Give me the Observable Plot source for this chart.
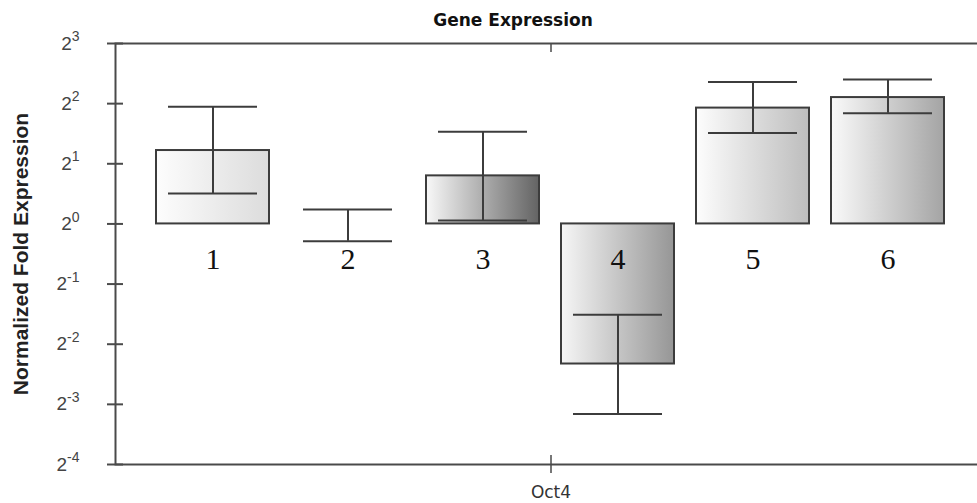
<!DOCTYPE html>
<html><head><meta charset="utf-8">
<script src="https://cdn.jsdelivr.net/npm/d3@7"></script>
<script src="https://cdn.jsdelivr.net/npm/@observablehq/plot@0.6"></script>
<style>
html,body{margin:0;padding:0;background:#fff;overflow:hidden;}
</style></head><body><div id="chart"></div>
<script>
// ---- data ----
const title = "Gene Expression";
const yLabel = "Normalized Fold Expression";
const gene = "Oct4";
const samples = ["1", "2", "3", "4", "5", "6"];
const fold    = [2.33, 1.0, 1.74, 0.199, 3.80, 4.29];
const errLow  = [1.42, 0.82, 1.04, 0.112, 2.85, 3.58];
const errHigh = [3.86, 1.18, 2.89, 0.351, 5.13, 5.28];
const yExponents = [-4, -3, -2, -1, 0, 1, 2, 3];

// ---- styles ----
const gradLeft  = ["#fdfdfd", "#fdfdfd", "#f8f8f8", "#f6f6f6", "#fdfdfd", "#fafafa"];
const gradRight = ["#dcdcdc", "#dcdcdc", "#636363", "#969696", "#bdbdbd", "#a4a4a4"];
const ink = "#3c3c3c";

const rows = samples.map((s, i) => ({
  sample: s, gene, fold: fold[i], lo: errLow[i], hi: errHigh[i], fill: `url(#bar-grad-${i})`
}));
const barRows = rows.filter(d => Math.abs(Math.log2(d.fold)) > 0.05);
const yTicks = yExponents.map(e => 2 ** e);

const chart = Plot.plot({
  width: 977, height: 503,
  marginLeft: 115, marginRight: -9, marginTop: 43, marginBottom: 39,
  style: {background: "#fff", fontFamily: "'Liberation Sans', Arial, sans-serif"},
  fx: {domain: [gene], padding: 0, label: null},
  x: {domain: samples, paddingInner: 0.16, paddingOuter: 0.3, axis: null},
  y: {type: "log", base: 2, domain: [2 ** -4, 2 ** 3], label: null},
  color: {type: "identity"},
  marks: [
    Plot.frame({stroke: "#4a4a4a", strokeWidth: 2}),
    Plot.barY(barRows, {fx: "gene", x: "sample", y1: 1, y2: "fold", fill: "fill", stroke: ink, strokeWidth: 2}),
    Plot.ruleX(rows, {fx: "gene", x: "sample", y1: "lo", y2: "hi", stroke: ink, strokeWidth: 2}),
    Plot.tickY(rows, {fx: "gene", x: "sample", y: "lo", inset: 12, stroke: ink, strokeWidth: 2}),
    Plot.tickY(rows, {fx: "gene", x: "sample", y: "hi", inset: 12, stroke: ink, strokeWidth: 2}),
    Plot.text(rows, {fx: "gene", x: "sample", y: d => 1, text: "sample", dy: 35, lineAnchor: "middle",
      fontSize: 30, fontFamily: "'Liberation Serif', 'Times New Roman', serif", fill: "#111"}),
    Plot.axisY({ticks: yTicks, tickSize: 16, dx: 8, tickFormat: () => "", stroke: "#4a4a4a", strokeWidth: 2, label: null}),
    Plot.axisY({ticks: yTicks, tickSize: 0, tickPadding: 36, fill: "#444", label: null,
      tickFormat: d => `2^${Math.round(Math.log2(d))}`}),
    Plot.axisFx({anchor: "bottom", tickSize: 18, dy: -9, tickFormat: () => "", stroke: "#4a4a4a", strokeWidth: 1.5, label: null}),
    Plot.axisFx({anchor: "top", tickSize: 8, dy: 8, tickFormat: () => "", stroke: "#4a4a4a", strokeWidth: 1.5, label: null}),
    Plot.axisFx({anchor: "bottom", tickSize: 0, tickPadding: 21, fill: "#333", label: null}),
    Plot.text([title], {frameAnchor: "top", dx: -38, dy: -23, textAnchor: "middle", lineAnchor: "middle", fontSize: 17,
      fontWeight: "bold", fontFamily: "'DejaVu Sans', sans-serif", fill: "#111"}),
    Plot.text([yLabel], {frameAnchor: "left", dx: -94, rotate: -90, textAnchor: "middle", lineAnchor: "middle", fontSize: 21,
      fontWeight: "bold", fill: "#222"})
  ]
});
document.getElementById("chart").appendChild(chart);

const svg = d3.select(chart.tagName.toLowerCase() === "svg" ? chart : chart.querySelector("svg"));

// gradient definitions for bar fills
const defs = svg.insert("defs", ":first-child");
samples.forEach((s, i) => {
  const g = defs.append("linearGradient").attr("id", `bar-grad-${i}`)
    .attr("x1", 0).attr("x2", 1).attr("y1", 0).attr("y2", 0);
  g.append("stop").attr("offset", 0).attr("stop-color", gradLeft[i]);
  g.append("stop").attr("offset", 1).attr("stop-color", gradRight[i]);
});

// superscript exponents on y tick labels
svg.selectAll('g[aria-label="y-axis tick label"]').attr("font-size", 19);
svg.selectAll('g[aria-label="y-axis tick label"] text').each(function () {
  const t = this.textContent;
  if (!t.includes("^")) return;
  const [base, exp] = t.split("^");
  const el = d3.select(this).attr("font-size", 19);
  el.text(null);
  el.append("tspan").text(base);
  el.append("tspan").attr("dy", "-0.6em").attr("font-size", 14).text(exp);
});

// facet label font
svg.selectAll('g[aria-label="fx-axis tick label"]').attr("font-size", 17)
  .attr("font-family", "'DejaVu Sans', sans-serif");
svg.selectAll('g[aria-label="fx-axis tick label"] text').attr("font-size", 17);
</script>
</body></html>
